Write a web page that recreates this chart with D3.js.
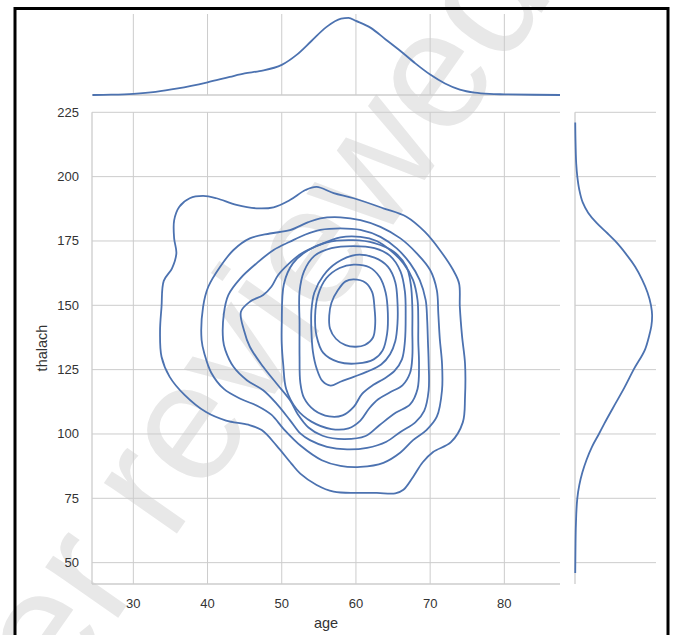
<!DOCTYPE html>
<html>
<head>
<meta charset="utf-8">
<script src="https://cdn.jsdelivr.net/npm/d3@7.9.0/dist/d3.min.js"></script>
<style>
  html, body { margin: 0; padding: 0; background: #fff; }
  svg { display: block; font-family: "Liberation Sans", Arial, sans-serif; }
</style>
</head>
<body>
<svg id="chart" width="674" height="635"></svg>
<script>
// tick labels
const ageTicks = [30, 40, 50, 60, 70, 80];
const thalachTicks = [50, 75, 100, 125, 150, 175, 200, 225];

// marginal kde (relative density)
const ageGrid = [24.5, 27, 30, 33, 36, 40, 43, 45, 47, 50, 52, 54, 56, 58, 59, 60, 62, 64, 66, 68, 70, 72, 74, 76, 78, 80, 84, 87.5];
const ageDensity = [0, 0.004, 0.015, 0.04, 0.085, 0.165, 0.235, 0.28, 0.31, 0.39, 0.52, 0.70, 0.88, 0.99, 1.0, 0.96, 0.87, 0.72, 0.57, 0.41, 0.265, 0.15, 0.07, 0.03, 0.014, 0.009, 0.003, 0];

const thalachGrid = [221, 212, 205, 200, 195, 190, 186, 182, 178, 175, 170, 165, 160, 155, 150, 146, 142, 138, 133, 125, 118, 110, 104, 100, 95, 90, 85, 80, 75, 65, 55, 46];
const thalachDensity = [0.003, 0.008, 0.016, 0.03, 0.055, 0.10, 0.17, 0.28, 0.42, 0.52, 0.66, 0.78, 0.87, 0.94, 0.985, 1.0, 0.99, 0.96, 0.91, 0.76, 0.64, 0.49, 0.38, 0.31, 0.22, 0.15, 0.095, 0.055, 0.03, 0.012, 0.006, 0.003];

// 2d kde iso-lines, outermost first, as [age, thalach]
const level1 = [[33.6,140],[33.8,149.4],[34.1,159.5],[35.2,164.3],[35.8,170.2],[35.5,176],[35.5,183],[36.2,188.3],[37.6,191.6],[39.4,192.5],[41.2,191.6],[43.9,189.0],[46.6,187.7],[48.9,188.1],[51.1,190.9],[53.2,194.8],[54.7,196.0],[57.0,193.6],[59.7,191.6],[63.7,187.7],[66.8,184.4],[69.3,178.5],[71.3,171.5],[73.1,163.7],[73.9,158.5],[74.0,149.4],[74.3,138],[74.7,127.4],[74.7,114.4],[74.4,104.5],[72.8,96.8],[70.4,93.0],[69.0,89],[67.7,83.3],[66.4,78.3],[65.3,76.9],[62.8,77.1],[60.1,77.1],[57.0,77.6],[54.7,80.2],[52.5,84.6],[51.3,88.5],[49.3,95.5],[47.3,101.5],[45.5,103.6],[42.5,105.2],[39.8,108.5],[36.9,115.2],[34.9,122.2],[33.8,130.0]];
const level2 = [[39.2,136.5],[39.4,149.4],[40.1,157.2],[41.7,165.0],[43.5,171.5],[45.7,176.0],[48.4,177.9],[51.1,179.2],[53.5,182.2],[55.2,183.8],[57.9,184.2],[60.6,183.1],[63.3,180.5],[66.0,176.0],[68.2,170.2],[70.0,163.7],[70.9,155.9],[71.1,146.8],[71.3,137],[71.6,127.4],[71.6,117.0],[70.9,106.7],[69.5,101.5],[67.7,97.6],[66.0,92.8],[63.7,88.8],[60.6,87.2],[57.9,87.6],[55.4,89.8],[52.6,95.3],[50.3,101.8],[48.6,107.5],[46.8,110.8],[44.5,113.6],[42.2,117.5],[40.5,123.8],[39.6,131]];
const level3 = [[42.1,136.5],[42.2,146.8],[42.8,154.0],[44.4,160.4],[46.6,166.3],[48.9,171.5],[51.1,174.7],[53.2,177.5],[55.2,179.3],[57.9,179.9],[60.6,179.3],[63.3,176.6],[65.5,172.1],[67.3,166.3],[68.6,159.8],[69.4,152.0],[69.6,144.2],[69.7,136],[69.8,127.4],[69.8,117],[69.2,109],[68.0,104.5],[66.0,100.8],[64.1,97],[61.5,94.6],[58.8,94.0],[56.1,95.0],[53.8,97.6],[52.5,100.2],[51.1,105.4],[49.3,111.8],[47.5,117.0],[45.3,120.9],[43.5,126.1],[42.4,132.6]];
const level4 = [[44.5,147.5],[45.7,151.4],[47.5,154.0],[48.6,157.2],[49.5,161.7],[50.9,166.0],[52.6,170.0],[55.2,173.6],[57.9,176.4],[60.6,176.6],[62.8,175.0],[64.6,171.5],[66.4,166.3],[67.7,159.8],[68.3,152.0],[68.4,144.2],[68.4,136],[68.5,127.4],[68.3,117.5],[67.3,111.5],[65.4,108.3],[63.2,103.5],[61.3,99.2],[58.4,98.0],[55.5,99.3],[53.6,102.5],[52.2,107.5],[51.1,113.2],[49.3,119.6],[47.5,126.1],[45.7,133.9],[44.9,140.4]];
const level5 = [[50.0,142.7],[50.3,158.4],[51.5,166.3],[53.5,171.3],[56.1,174.5],[59.6,175.3],[62.5,174.2],[65.1,170.8],[66.8,165],[67.4,158],[67.6,149],[67.6,140],[67.6,130],[67.3,123.8],[66.3,119],[64.6,116.2],[63.0,113.5],[61.8,110],[60.6,105.2],[59.0,102.2],[56.7,101.9],[54.0,104.8],[52.0,109.7],[50.6,117.5],[50.2,127.0],[50.0,135]];
const level6 = [[52.4,142.7],[52.4,155.3],[53.0,163.2],[54.4,169.2],[56.7,172.2],[59.6,173.0],[62.5,172.2],[64.6,169.2],[66.0,163.2],[66.6,155.3],[66.7,146],[66.6,136],[66.2,129],[65.2,124.5],[63.8,121.5],[62.3,119],[60.8,115.5],[59.7,110.5],[58.2,107.2],[56.4,106.8],[54.4,109.2],[53.0,114],[52.5,120],[52.4,130]];
const level7 = [[54.0,140],[54.0,148],[54.4,155],[55.6,161.5],[57.4,166.5],[60.0,169.6],[62.5,168.5],[64.3,165],[65.3,159],[65.6,151],[65.6,143],[65.3,136],[64.6,131],[63.4,127],[61.5,124.2],[59.7,122.2],[57.9,120.3],[56.6,118.8],[55.5,120.5],[54.7,125.5],[54.2,132]];
const level8 = [[59.7,165.8],[61.8,164.8],[63.2,161],[64.0,155],[64.3,147],[64.2,139],[63.6,132.5],[62.4,129],[60.2,127.4],[57.6,128],[55.6,131.5],[54.7,138],[54.5,146],[54.9,154],[56,160.5],[57.8,164.5]];
const level9 = [[59.7,160.1],[61.3,158.8],[62.2,155],[62.5,149],[62.6,143],[62.3,137.5],[61.2,134.6],[60.0,133.9],[58.6,134.5],[57.3,137],[56.5,141],[56.4,146],[56.7,151],[57.6,156],[58.6,159.3]];

const contours = [level1, level2, level3, level4, level5, level6, level7, level8, level9];

const blue = '#4c72b0';
const gridColor = '#cccccc';
const textColor = '#333333';

const svg = d3.select('#chart');
svg.append('rect').attr('width', 674).attr('height', 635).attr('fill', '#fff');

// watermark
svg.append('text')
  .attr('transform', 'translate(-60,872) rotate(-55)')
  .attr('font-size', 168)
  .attr('fill', '#e8e8e8')
  .text('Peer reviewed');

// scales
const x = d3.scaleLinear().domain([24.43, 87.5]).range([92, 560]);
const y = d3.scaleLinear().domain([41.7, 225]).range([584, 112.3]);
const topY = d3.scaleLinear().domain([0, 1.05]).range([95, 14]);
const rightX = d3.scaleLinear().domain([0, 1.05]).range([575, 656]);

// main grid
const grid = svg.append('g').attr('stroke', gridColor).attr('stroke-width', 1);
grid.selectAll('.vx').data(ageTicks).join('line')
  .attr('x1', d => x(d)).attr('x2', d => x(d))
  .attr('y1', y.range()[1]).attr('y2', y.range()[0]);
grid.selectAll('.hy').data(thalachTicks).join('line')
  .attr('class', 'hy')
  .attr('x1', x.range()[0]).attr('x2', x.range()[1])
  .attr('y1', d => y(d)).attr('y2', d => y(d));
// spines
grid.append('line').attr('x1', 92).attr('x2', 92).attr('y1', 112.3).attr('y2', 584).attr('stroke-width', 1.3);
grid.append('line').attr('x1', 92).attr('x2', 560).attr('y1', 584).attr('y2', 584).attr('stroke-width', 1.3);

// top marginal grid + spine
grid.selectAll('.tv').data(ageTicks).join('line')
  .attr('class', 'tv')
  .attr('x1', d => x(d)).attr('x2', d => x(d))
  .attr('y1', topY.range()[1]).attr('y2', topY.range()[0]);
grid.append('line').attr('x1', 92).attr('x2', 560).attr('y1', 95).attr('y2', 95).attr('stroke-width', 1.3);

// right marginal grid + spine
grid.selectAll('.rh').data(thalachTicks).join('line')
  .attr('class', 'rh')
  .attr('x1', rightX.range()[0]).attr('x2', rightX.range()[1])
  .attr('y1', d => y(d)).attr('y2', d => y(d));
grid.append('line').attr('x1', 575).attr('x2', 575).attr('y1', 112.3).attr('y2', 584).attr('stroke-width', 1.3);

// tick labels
svg.append('g').selectAll('text').data(ageTicks).join('text')
  .attr('x', d => x(d)).attr('y', 608)
  .attr('text-anchor', 'middle')
  .attr('font-size', 13).attr('fill', textColor)
  .text(d => d);
svg.append('g').selectAll('text').data(thalachTicks).join('text')
  .attr('x', 79).attr('y', d => y(d) + 4.5)
  .attr('text-anchor', 'end')
  .attr('font-size', 13).attr('fill', textColor)
  .text(d => d);

// axis titles
svg.append('text').attr('x', 326).attr('y', 628)
  .attr('text-anchor', 'middle').attr('font-size', 14.5).attr('fill', textColor)
  .text('age');
svg.append('text').attr('transform', 'translate(47,348) rotate(-90)')
  .attr('text-anchor', 'middle').attr('font-size', 14.5).attr('fill', textColor)
  .text('thalach');

// contours
const contourLine = d3.line()
  .x(d => x(d[0]))
  .y(d => y(d[1]))
  .curve(d3.curveCatmullRomClosed.alpha(0.5));

svg.append('g').selectAll('path').data(contours).join('path')
  .attr('d', contourLine)
  .attr('fill', 'none')
  .attr('stroke', blue)
  .attr('stroke-width', 1.8);

// top marginal kde
const topLine = d3.line()
  .x((d, i) => x(ageGrid[i]))
  .y(d => topY(d))
  .curve(d3.curveMonotoneX);
svg.append('path').datum(ageDensity)
  .attr('d', topLine)
  .attr('fill', 'none').attr('stroke', blue).attr('stroke-width', 1.8);

// right marginal kde
const rightLine = d3.line()
  .x(d => rightX(d))
  .y((d, i) => y(thalachGrid[i]))
  .curve(d3.curveMonotoneY);
svg.append('path').datum(thalachDensity)
  .attr('d', rightLine)
  .attr('fill', 'none').attr('stroke', blue).attr('stroke-width', 1.8);

// frame
svg.append('rect')
  .attr('x', 15).attr('y', 8.5).attr('width', 653).attr('height', 700)
  .attr('fill', 'none').attr('stroke', '#000').attr('stroke-width', 3);
</script>
</body>
</html>
